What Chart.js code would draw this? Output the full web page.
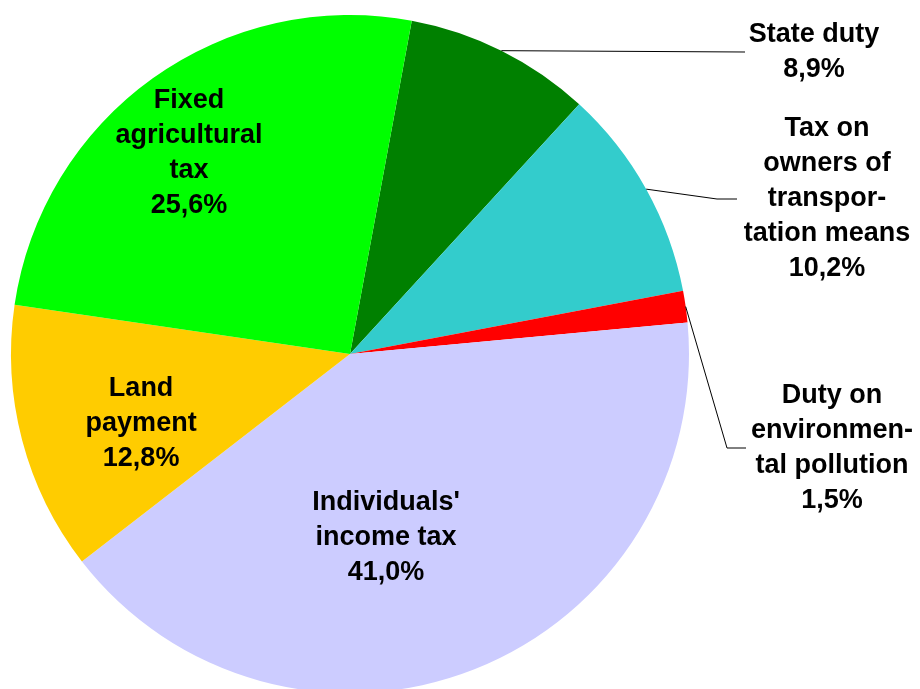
<!DOCTYPE html>
<html>
<head>
<meta charset="utf-8">
<style>
  html, body { margin: 0; padding: 0; background: #fff; overflow: hidden; }
  #wrap { position: relative; width: 920px; height: 700px; }
</style>
<script src="https://cdn.jsdelivr.net/npm/chart.js@4/dist/chart.umd.min.js"></script>
</head>
<body>
<div id="wrap"><canvas id="chart"></canvas></div>
<script>
const categories = [
  "State duty",
  "Tax on owners of transportation means",
  "Duty on environmental pollution",
  "Individuals' income tax",
  "Land payment",
  "Fixed agricultural tax",
];
const shares = [8.9, 10.2, 1.5, 41.0, 12.8, 25.6];
const labelLines = [
  ["State duty"],
  ["Tax on", "owners of", "transpor-", "tation means"],
  ["Duty on", "environmen-", "tal pollution"],
  ["Individuals'", "income tax"],
  ["Land", "payment"],
  ["Fixed", "agricultural", "tax"],
];
const sliceColors = ["#008000", "#33cccc", "#ff0000", "#ccccff", "#ffcc00", "#00ff00"];

// where each label goes: inside ones by angle (deg from top) and radius fraction,
// outside ones by a leader elbow/end point and the text centre x
const labelPlaces = [
  { elbow: [745, 52], end: [745, 52], textX: 814 },
  { elbow: [717, 199], end: [737, 199], textX: 827 },
  { elbow: [727, 448], end: [746, 448], textX: 832 },
  { angle: 168.9, r: 0.553 },
  { angle: 251.7, r: 0.649 },
  { angle: 321.3, r: 0.76 },
];

const FONT = 'bold 27px "Liberation Sans", Arial, sans-serif';
const LINE_H = 35;

const pct = (v) => v.toFixed(1).replace(".", ",") + "%";

function drawBlock(ctx, lines, cx, cy) {
  const top = cy - ((lines.length - 1) * LINE_H) / 2;
  lines.forEach((t, i) => ctx.fillText(t, cx, top + i * LINE_H));
}

const sliceLabels = {
  id: "sliceLabels",
  afterDatasetsDraw(chart) {
    const ctx = chart.ctx;
    const arcs = chart.getDatasetMeta(0).data;
    ctx.save();
    ctx.font = FONT;
    ctx.fillStyle = "#000";
    ctx.textAlign = "center";
    ctx.textBaseline = "middle";
    arcs.forEach((arc, i) => {
      const place = labelPlaces[i];
      const lines = labelLines[i].concat(pct(shares[i]));
      if (place.elbow) {
        const mid = (arc.startAngle + arc.endAngle) / 2;
        const sx = arc.x + Math.cos(mid) * arc.outerRadius;
        const sy = arc.y + Math.sin(mid) * arc.outerRadius;
        ctx.beginPath();
        ctx.strokeStyle = "#000";
        ctx.lineWidth = 1;
        ctx.moveTo(sx, sy);
        ctx.lineTo(place.elbow[0], place.elbow[1]);
        ctx.lineTo(place.end[0], place.end[1]);
        ctx.stroke();
        drawBlock(ctx, lines, place.textX, place.end[1]);
      } else {
        const a = ((place.angle - 90) * Math.PI) / 180;
        const d = place.r * arc.outerRadius;
        drawBlock(ctx, lines, arc.x + Math.cos(a) * d, arc.y + Math.sin(a) * d);
      }
    });
    ctx.restore();
  },
};

new Chart(document.getElementById("chart"), {
  type: "pie",
  plugins: [sliceLabels],
  data: {
    labels: categories,
    datasets: [
      {
        data: shares,
        backgroundColor: sliceColors,
        borderWidth: 0,
        hoverOffset: 0,
      },
    ],
  },
  options: {
    animation: false,
    responsive: true,
    maintainAspectRatio: false,
    rotation: 10.5,
    layout: { padding: { left: 11, right: 231, top: 15, bottom: 7 } },
    plugins: {
      legend: { display: false },
      tooltip: { enabled: false },
    },
  },
});
</script>
</body>
</html>
